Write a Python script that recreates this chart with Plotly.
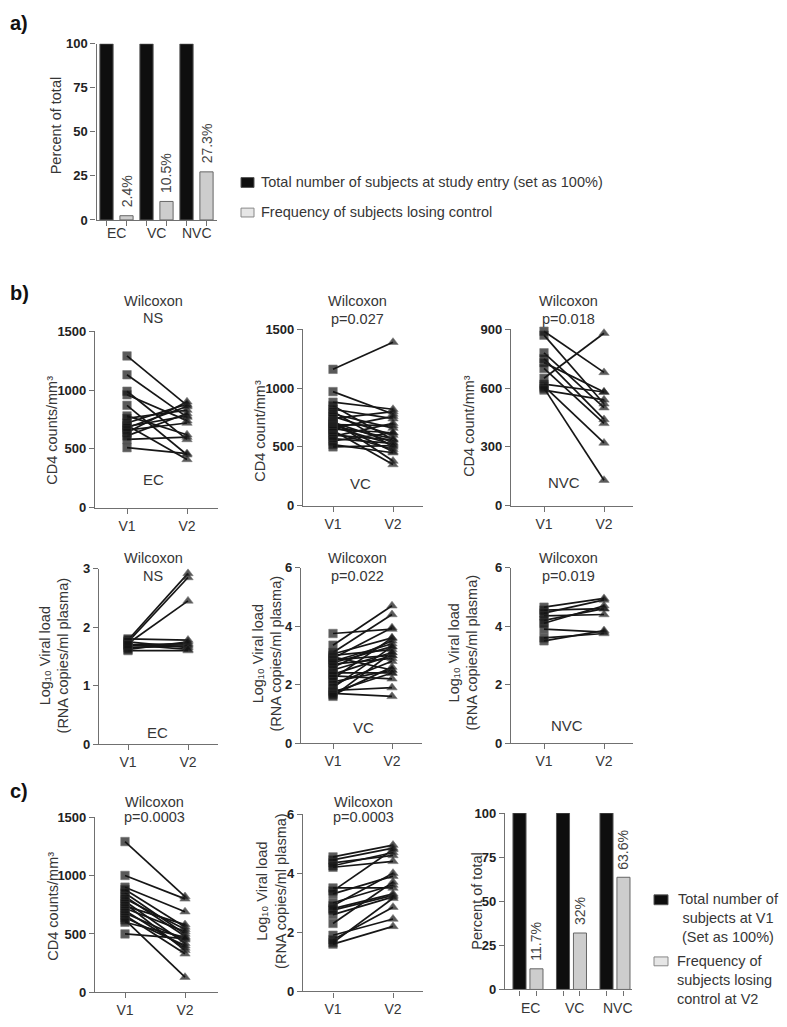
import plotly.graph_objects as go

# ---------------- data ----------------
CATS = ["EC", "VC", "NVC"]
A_TOTAL = [100, 100, 100]
A_LOST = [2.4, 10.5, 27.3]
C_TOTAL = [100, 100, 100]
C_LOST = [11.7, 32, 63.6]
VISITS = ["V1", "V2"]

EC_CD4_V1 = [1290, 1130, 990, 960, 870, 780, 760, 720, 700, 690, 680, 660, 640, 610, 580, 510]
EC_CD4_V2 = [870, 770, 580, 740, 450, 620, 830, 880, 410, 780, 860, 720, 900, 800, 600, 460]

VC_CD4_V1 = [1160, 970, 880, 850, 820, 800, 780, 760, 740, 720, 710, 700, 690, 680, 670, 660, 650, 640, 620, 600, 590, 570, 550, 520, 500]
VC_CD4_V2 = [1390, 780, 820, 560, 740, 500, 660, 600, 800, 380, 540, 460, 680, 570, 520, 760, 620, 350, 480, 560, 700, 530, 620, 450, 510]

NVC_CD4_V1 = [890, 870, 780, 750, 730, 700, 650, 620, 610, 600, 590]
NVC_CD4_V2 = [680, 520, 500, 440, 580, 420, 880, 580, 320, 130, 540]

EC_VL_V1 = [1.78, 1.75, 1.72, 1.80, 1.70, 1.65, 1.60, 1.75, 1.68, 1.62, 1.70]
EC_VL_V2 = [2.92, 2.85, 2.45, 1.78, 1.72, 1.68, 1.60, 1.65, 1.70, 1.75, 1.62]

VC_VL_V1 = [3.75, 3.35, 3.10, 3.05, 3.00, 2.95, 2.90, 2.85, 2.80, 2.75, 2.70, 2.60, 2.50, 2.40, 2.35, 2.30, 2.20, 2.10, 2.00, 1.90, 1.80, 1.75, 1.70, 1.65, 1.60]
VC_VL_V2 = [3.90, 4.70, 4.40, 3.60, 3.20, 2.50, 3.95, 3.00, 3.40, 3.30, 2.90, 3.50, 3.10, 2.40, 3.00, 2.20, 3.60, 2.50, 2.80, 3.30, 1.90, 2.40, 1.60, 2.60, 3.10]

NVC_VL_V1 = [4.65, 4.55, 4.45, 4.35, 4.20, 4.10, 3.90, 3.60, 3.50]
NVC_VL_V2 = [4.95, 4.60, 4.90, 4.40, 4.60, 4.70, 3.80, 3.75, 3.85]

C_CD4_V1 = [1290, 1000, 900, 880, 850, 820, 800, 780, 760, 740, 720, 700, 680, 660, 640, 620, 600, 500]
C_CD4_V2 = [820, 800, 690, 560, 500, 480, 540, 420, 360, 580, 520, 380, 450, 330, 400, 130, 470, 460]

C_VL_V1 = [4.55, 4.45, 4.35, 4.25, 4.20, 3.50, 3.40, 3.30, 3.00, 2.90, 2.80, 2.75, 2.60, 2.30, 1.90, 1.75, 1.60, 1.65]
C_VL_V2 = [4.95, 4.85, 4.60, 4.70, 4.40, 3.50, 4.80, 3.90, 3.60, 4.00, 3.30, 3.25, 3.20, 3.70, 2.45, 2.85, 2.20, 3.15]

# ---------------- layout helpers ----------------
PAGE_W, PAGE_H = 787, 1027
OFF = 8  # default page margin of the html body
W, H = PAGE_W - OFF, PAGE_H - OFF
FONT = "Liberation Sans, Arial, Helvetica, sans-serif"
TXT = "#363636"
AX = "#707070"


def fx(p):
    return (p - OFF) / W


def fy(p):
    return 1 - (p - OFF) / H


fig = go.Figure()
layout = dict(width=W, height=H, margin=dict(l=0, r=0, t=0, b=0), autosize=False,
              paper_bgcolor="white", plot_bgcolor="white", showlegend=False,
              barmode="overlay",
              font=dict(family=FONT, color=TXT))
annotations = []
shapes = []


def ann(text, x, y, size=14, angle=0, xanchor="center", yanchor="middle", bold=False, color=TXT, align="center"):
    annotations.append(dict(text=text, x=fx(x), y=fy(y), xref="paper", yref="paper",
                            showarrow=False, textangle=angle, xanchor=xanchor, yanchor=yanchor,
                            align=align,
                            font=dict(size=size, color=color, family=FONT,
                                      weight="bold" if bold else "normal")))


def axes(n, left, right, p0, unit, ybot, ytop, ymax, ytickvals, xtickvals, xticktext):
    suf = str(n) if n > 1 else ""
    xa = dict(domain=[fx(left), fx(right)], range=[(left - p0) / unit, (right - p0) / unit],
              anchor="y" + suf, showline=True, linecolor=AX, linewidth=1.2,
              ticks="outside", ticklen=5, tickcolor=AX, tickwidth=1.2, showgrid=False, zeroline=False,
              tickvals=xtickvals, tickfont=dict(size=14, color=TXT, family=FONT))
    if xticktext is None:
        xa["showticklabels"] = False
    else:
        xa["ticktext"] = xticktext
    ya = dict(domain=[fy(ybot), fy(ytop)], range=[0, ymax],
              anchor="x" + suf, showline=True, linecolor=AX, linewidth=1.2,
              ticks="outside", ticklen=5, tickcolor=AX, tickwidth=1.2, showgrid=False, zeroline=False,
              tickvals=ytickvals, tickfont=dict(size=13, color="#222222", family=FONT, weight="bold"))
    layout["xaxis" + suf] = xa
    layout["yaxis" + suf] = ya
    return "x" + suf, "y" + suf


def pairs(n, v1, v2, left, right, pv1, pv2, ybot, ytop, ymax, ytickvals):
    xr, yr = axes(n, left, right, pv1, pv2 - pv1, ybot, ytop, ymax, ytickvals, [0, 1], VISITS)
    xs, ys, sym, sz = [], [], [], []
    for a, b in zip(v1, v2):
        xs += [0, 1, None]
        ys += [a, b, None]
        sym += ["square", "triangle-up", "square"]
        sz += [8.5, 9, 0]
    fig.add_trace(go.Scatter(x=xs, y=ys, mode="lines+markers", xaxis=xr, yaxis=yr,
                             line=dict(color="#161616", width=1.7), connectgaps=False,
                             marker=dict(symbol=sym, size=sz, color="#141414",
                                         line=dict(color="#3c3c3c", width=0.6)),
                             cliponaxis=False, hoverinfo="skip"))


def bars(n, total, lost, left, right, p0, unit, gap, ybot, ytop, width):
    pos_t = [i for i in range(len(CATS))]
    pos_l = [i + gap for i in range(len(CATS))]
    xr, yr = axes(n, left, right, p0, unit, ybot, ytop, 100, [0, 25, 50, 75, 100],
                  pos_t + pos_l, None)
    fig.add_trace(go.Bar(x=pos_t, y=total, width=width, xaxis=xr, yaxis=yr,
                         marker=dict(color="#0e0e0e", line=dict(color="#555555", width=1))))
    fig.add_trace(go.Bar(x=pos_l, y=lost, width=width, xaxis=xr, yaxis=yr,
                         marker=dict(color="#cdcdcd", line=dict(color="#666666", width=1))))
    for p, v in zip(pos_l, lost):
        annotations.append(dict(text=f"{v:g}%", x=p, y=v, xref=xr, yref=yr, showarrow=False,
                                textangle=-90, xanchor="center", yanchor="bottom", yshift=6,
                                font=dict(size=14, color="#444444", family=FONT)))
    return xr


# ---------------- panel a ----------------
xa_ref = bars(1, A_TOTAL, A_LOST, 96.5, 217, 106.5, 40, 0.5, 216, 37.3, 0.33)
for i, c in enumerate(CATS):
    annotations.append(dict(text=c, x=i + 0.25, y=fy(229), xref=xa_ref, yref="paper", showarrow=False,
                            xanchor="center", yanchor="middle", font=dict(size=14, color=TXT, family=FONT)))
ann("Percent of total", 56, 120, size=14.5, angle=-90)
ann("a)", 8, 16, size=20, bold=True, xanchor="left", color="#111111")
shapes.append(dict(type="rect", xref="paper", yref="paper", x0=fx(241), x1=fx(254), y0=fy(183), y1=fy(173),
                   fillcolor="#0e0e0e", line=dict(color="#555555", width=1)))
shapes.append(dict(type="rect", xref="paper", yref="paper", x0=fx(241), x1=fx(254), y0=fy(213), y1=fy(204),
                   fillcolor="#e6e6e6", line=dict(color="#888888", width=1)))
ann("Total number of subjects at study entry (set as 100%)", 259, 177, size=14.5, xanchor="left")
ann("Frequency of subjects losing control", 259, 208, size=14.5, xanchor="left")

# ---------------- panel b ----------------
ann("b)", 8, 290, size=20, bold=True, xanchor="left", color="#111111")
pairs(2, EC_CD4_V1, EC_CD4_V2, 95, 218, 127, 187, 508, 329, 1500, [0, 500, 1000, 1500])
pairs(3, VC_CD4_V1, VC_CD4_V2, 303, 423, 333, 393, 506, 327, 1500, [0, 500, 1000, 1500])
pairs(4, NVC_CD4_V1, NVC_CD4_V2, 511, 633, 544, 604, 506, 327, 900, [0, 300, 600, 900])
pairs(5, EC_VL_V1, EC_VL_V2, 99, 218, 128, 188, 748, 570, 3, [0, 1, 2, 3])
pairs(6, VC_VL_V1, VC_VL_V2, 301, 422, 333, 392, 747, 569, 6, [0, 2, 4, 6])
pairs(7, NVC_VL_V1, NVC_VL_V2, 511, 633, 544, 604, 747, 569, 6, [0, 2, 4, 6])

CD4S = "CD4 counts/mm³"
CD4 = "CD4 count/mm³"
VL = "Log₁₀ Viral load<br>(RNA copies/ml plasma)"
ann(CD4S, 52, 430, size=14.5, angle=-90)
ann(CD4, 260, 430, size=14.5, angle=-90)
ann(CD4, 469, 425, size=14.5, angle=-90)
ann(VL, 54, 658, size=14.5, angle=-90)
ann(VL, 267, 656, size=14.5, angle=-90)
ann(VL, 463, 655, size=14.5, angle=-90)

for (x, y1, y2, t2) in [(153, 298, 316, "NS"), (357, 298, 317, "p=0.027"), (568, 298, 317, "p=0.018"),
                        (153, 559, 577, "NS"), (357, 559, 577, "p=0.022"), (568, 559, 577, "p=0.019"),
                        (154, 807, 822, "p=0.0003"), (363, 807, 822, "p=0.0003")]:
    ann("Wilcoxon", x, y1, size=14.5)
    ann(t2, x, y2, size=14.5)

for (t, x, y) in [("EC", 153, 479), ("VC", 360, 483), ("NVC", 564, 482),
                  ("EC", 157, 736), ("VC", 363, 731), ("NVC", 567, 729)]:
    ann(t, x, y, size=15)

# ---------------- panel c ----------------
ann("c)", 8, 796, size=20, bold=True, xanchor="left", color="#111111")
pairs(8, C_CD4_V1, C_CD4_V2, 95, 218, 125, 185, 1000, 822, 1500, [0, 500, 1000, 1500])
pairs(9, C_VL_V1, C_VL_V2, 303, 423, 333, 393, 999, 819, 6, [0, 2, 4, 6])
ann(CD4S, 53, 913, size=14.5, angle=-90)
ann(VL, 272, 897, size=14.5, angle=-90)

xc_ref = bars(10, C_TOTAL, C_LOST, 505, 632, 519.5, 43.5, 0.39, 997, 818, 0.3)
for i, c in enumerate(CATS):
    annotations.append(dict(text=c, x=i + 0.26, y=fy(1016), xref=xc_ref, yref="paper", showarrow=False,
                            xanchor="center", yanchor="middle", font=dict(size=14, color=TXT, family=FONT)))
ann("Percent of total", 477, 907, size=14.5, angle=-90)
shapes.append(dict(type="rect", xref="paper", yref="paper", x0=fx(654), x1=fx(668), y0=fy(911), y1=fy(901),
                   fillcolor="#0e0e0e", line=dict(color="#555555", width=1)))
shapes.append(dict(type="rect", xref="paper", yref="paper", x0=fx(654), x1=fx(668), y0=fy(973), y1=fy(964),
                   fillcolor="#e6e6e6", line=dict(color="#888888", width=1)))
ann("Total number of<br>subjects at V1<br>(Set as 100%)", 728, 924, size=14.5, align="center")
ann("Frequency of<br>subjects losing<br>control at V2", 675, 987, size=14.5, xanchor="left", align="left")

layout["annotations"] = annotations
layout["shapes"] = shapes
fig.update_layout(**layout)
fig.write_html("out.html")
